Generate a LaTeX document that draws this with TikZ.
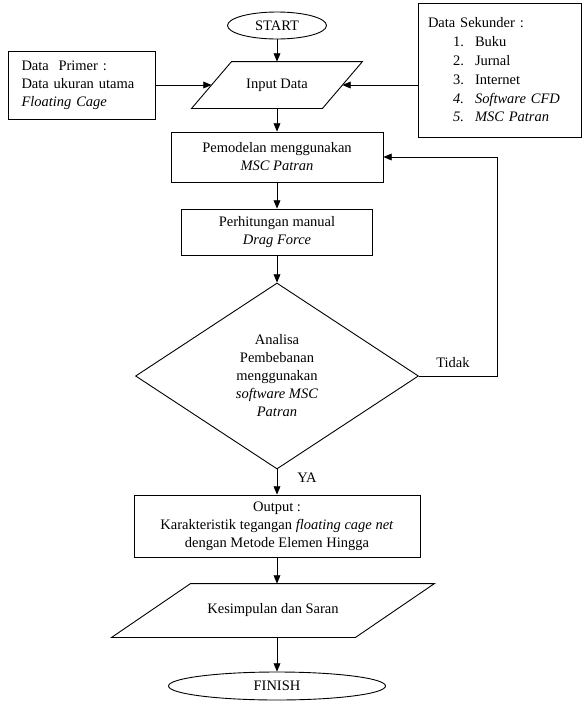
\documentclass[tikz,border=0pt]{standalone}
\usepackage{fontspec}
\setmainfont{Liberation Serif}
\usetikzlibrary{positioning}
\usetikzlibrary{arrows}
\usetikzlibrary{shapes.geometric}

\begin{document}
\begin{tikzpicture}[->,>=triangle 45,line width=0.9pt,x=1pt,y=-1pt,
	nodes={draw,font=\fontsize{14.5}{18}\selectfont,align=center,inner sep=2pt},
	block/.style={rectangle},
	io/.style={rectangle,draw=none},
	txt/.style={draw=none}]
	\useasboundingbox (0,0) rectangle (583,702);
	\node (start) [ellipse, minimum width=99pt, minimum height=27pt] at (277,25.5) {START};
	\node (input) [io, minimum width=130pt, minimum height=46pt, node distance=59.5pt, below of = start] {Input Data};
	\node (primer) [block, align=left, text width=121pt, inner xsep=13pt, minimum height=68pt, node distance=195pt, left of = input] {Data~~Primer :\\Data ukuran utama\\\textit{Floating Cage}};
	\node (sekunder) [block, align=left, text width=143pt, inner xsep=10pt, minimum height=134pt, node distance=222.5pt, right of = input, yshift=15pt, font=\fontsize{14.5}{18.8}\selectfont] {Data Sekunder :\\
		\hspace*{25pt}\makebox[22pt][l]{1.}Buku\\
		\hspace*{25pt}\makebox[22pt][l]{2.}Jurnal\\
		\hspace*{25pt}\makebox[22pt][l]{3.}Internet\\
		\hspace*{25pt}\textit{\makebox[22pt][l]{4.}Software CFD}\\
		\hspace*{25pt}\textit{\makebox[22pt][l]{5.}MSC Patran}};
	\node (pemodelan) [block, minimum width=212pt, minimum height=50pt, node distance=72pt, below of = input] {Pemodelan menggunakan\\\textit{MSC Patran}};
	\node (perhitungan) [block, minimum width=191pt, minimum height=46pt, node distance=75pt, below of = pemodelan] {Perhitungan manual\\\textit{Drag Force}};
	\node (analisa) [diamond, shape aspect=1.5, inner sep=0pt, minimum width=283pt, minimum height=186pt, node distance=144pt, below of = perhitungan] {Analisa\\Pembebanan\\menggunakan\\\textit{software MSC}\\\textit{Patran}};
	\node (output) [block, minimum width=286pt, minimum height=62pt, node distance=150pt, below of = analisa] {Output :\\Karakteristik tegangan \textit{floating cage net}\\dengan Metode Elemen Hingga};
	\node (kesimpulan) [io, minimum width=243pt, minimum height=53pt, node distance=84.5pt, below of = output, xshift=-4pt] {Kesimpulan dan Saran};
	\node (finish) [ellipse, minimum width=217pt, minimum height=28pt, node distance=75.5pt, below of = kesimpulan, xshift=4pt] {FINISH};
	\node (tidak) [txt] at (453,363) {Tidak};
	\node (ya) [txt] at (307,478) {YA};
	
	% parallelograms round the io nodes
	\draw[-] ([xshift=-20pt]input.south west) -- ([xshift=20pt]input.north west) -- ([xshift=20pt]input.north east) -- ([xshift=-20pt]input.south east) -- cycle;
	\draw[-] ([xshift=-39.5pt]kesimpulan.south west) -- ([xshift=39.5pt]kesimpulan.north west) -- ([xshift=39.5pt]kesimpulan.north east) -- ([xshift=-39.5pt]kesimpulan.south east) -- cycle;
	
	\draw (start) -- (input);
	\draw (primer) -- (input);
	\draw (sekunder.west |- input) -- (input);
	\draw (input) -- (pemodelan);
	\draw (pemodelan) -- (perhitungan);
	\draw (perhitungan) -- (analisa);
	\draw (analisa) -- (output);
	\draw (analisa.east) -- ++(78,0) |- (pemodelan.east);
	\draw (output) -- (kesimpulan.north -| output);
	\draw (kesimpulan.south -| finish) -- (finish);
\end{tikzpicture}
\end{document}
